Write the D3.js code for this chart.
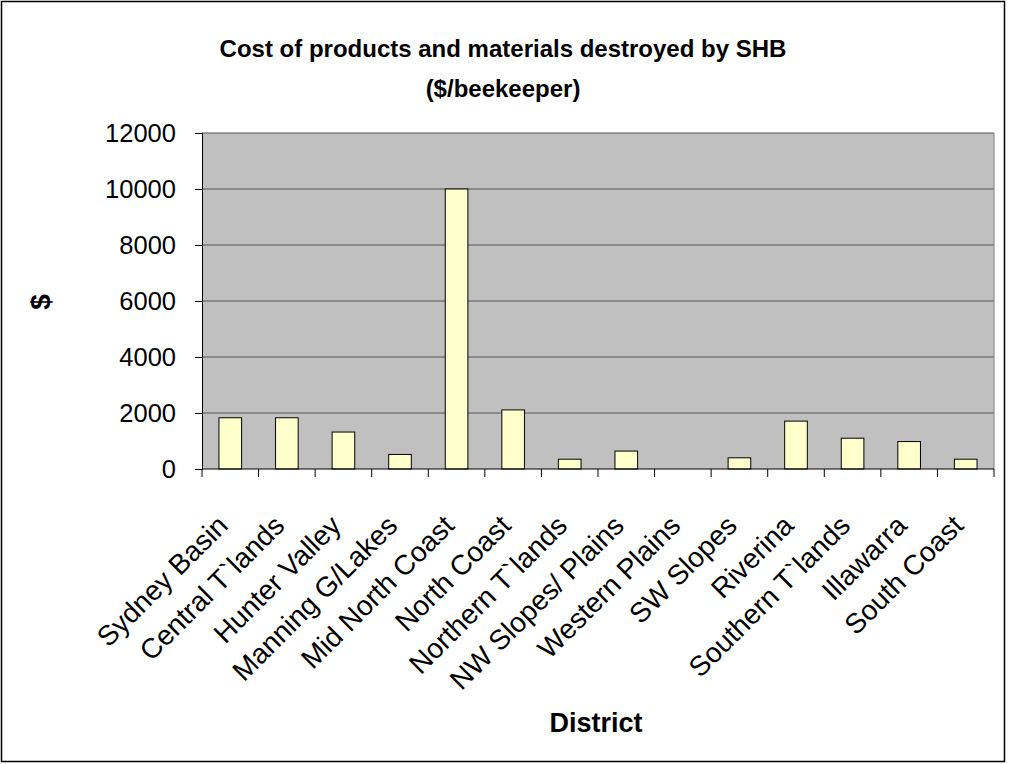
<!DOCTYPE html>
<html>
<head>
<meta charset="utf-8">
<script src="https://cdn.jsdelivr.net/npm/d3@7"></script>
<style>
  html, body { margin: 0; padding: 0; background: #fff; }
  svg { display: block; font-family: "Liberation Sans", Arial, sans-serif; }
</style>
</head>
<body>
<div id="chart"></div>
<script>
// Cost of products and materials destroyed by SHB, per beekeeper, by district

const districts = [
  "Sydney Basin", "Central T`lands", "Hunter Valley", "Manning G/Lakes",
  "Mid North Coast", "North Coast", "Northern T`lands", "NW Slopes/ Plains",
  "Western Plains", "SW Slopes", "Riverina", "Southern T`lands",
  "Illawarra", "South Coast"
];
const costs = [1830, 1830, 1320, 520, 10000, 2110, 350, 640, 0, 400, 1710, 1100, 980, 350];
const yTicks = [0, 2000, 4000, 6000, 8000, 10000, 12000];

const width = 1009, height = 764;
const plot = { left: 202, right: 994, top: 133, bottom: 469 };

const svg = d3.select("#chart").append("svg")
  .attr("width", width).attr("height", height);

// outer chart frame
svg.append("rect")
  .attr("x", 1.5).attr("y", 1.5).attr("width", 1003).attr("height", 760)
  .attr("fill", "#fff").attr("stroke", "#000").attr("stroke-width", 1.5);

const x = d3.scaleBand().domain(districts)
  .range([plot.left, plot.right]).paddingInner(0.6).paddingOuter(0.3);
const y = d3.scaleLinear().domain([0, 12000]).range([plot.bottom, plot.top]);

// plot background
svg.append("rect")
  .attr("x", plot.left).attr("y", plot.top)
  .attr("width", plot.right - plot.left).attr("height", plot.bottom - plot.top)
  .attr("fill", "#c0c0c0");

// gridlines
svg.append("g").selectAll("line").data(yTicks.filter(d => d > 0)).join("line")
  .attr("x1", plot.left).attr("x2", plot.right)
  .attr("y1", d => y(d)).attr("y2", d => y(d))
  .attr("stroke", "#555").attr("stroke-width", 1);

// right border of plot area
svg.append("line")
  .attr("x1", plot.right).attr("x2", plot.right)
  .attr("y1", plot.top).attr("y2", plot.bottom)
  .attr("stroke", "#808080").attr("stroke-width", 1);

// bars
svg.append("g").selectAll("rect").data(districts.map((d, i) => ({ d, v: costs[i] })))
  .join("rect")
  .attr("x", r => x(r.d))
  .attr("y", r => y(r.v))
  .attr("width", x.bandwidth())
  .attr("height", r => y(0) - y(r.v))
  .attr("fill", "#ffffcc")
  .attr("stroke", r => r.v > 0 ? "#000" : "none")
  .attr("stroke-width", 1);

// y axis
const gY = svg.append("g").attr("transform", `translate(${plot.left},0)`)
  .call(d3.axisLeft(y).tickValues(yTicks).tickSize(7).tickPadding(19).tickFormat(d3.format("d")));
gY.selectAll("text").attr("font-size", 25.5).attr("fill", "#000");
gY.selectAll("line, path").attr("stroke", "#000");

// x axis: ticks between categories
const step = x.step();
const gX = svg.append("g").attr("transform", `translate(0,${plot.bottom})`);
gX.append("line").attr("x1", plot.left).attr("x2", plot.right)
  .attr("stroke", "#000").attr("stroke-width", 1);
gX.selectAll("line.tk").data(d3.range(districts.length + 1)).join("line")
  .attr("class", "tk")
  .attr("x1", i => plot.left + i * step).attr("x2", i => plot.left + i * step)
  .attr("y1", 0).attr("y2", 8).attr("stroke", "#000");
gX.selectAll("text").data(districts).join("text")
  .attr("transform", d => `translate(${x(d) + x.bandwidth() / 2 - 15},${44}) rotate(-45)`)
  .attr("text-anchor", "end").attr("dy", "0.72em")
  .attr("font-size", 28).attr("fill", "#000")
  .text(d => d);

// titles
svg.append("text").attr("x", 503).attr("y", 57).attr("text-anchor", "middle")
  .attr("font-size", 24).attr("font-weight", "bold")
  .text("Cost of products and materials destroyed by SHB");
svg.append("text").attr("x", 503).attr("y", 97).attr("text-anchor", "middle")
  .attr("font-size", 24).attr("font-weight", "bold")
  .text("($/beekeeper)");
svg.append("text").attr("transform", `translate(50,302) rotate(-90)`)
  .attr("text-anchor", "middle").attr("font-size", 28).attr("font-weight", "bold")
  .text("$");
svg.append("text").attr("x", 596).attr("y", 732).attr("text-anchor", "middle")
  .attr("font-size", 27).attr("font-weight", "bold")
  .text("District");
</script>
</body>
</html>
